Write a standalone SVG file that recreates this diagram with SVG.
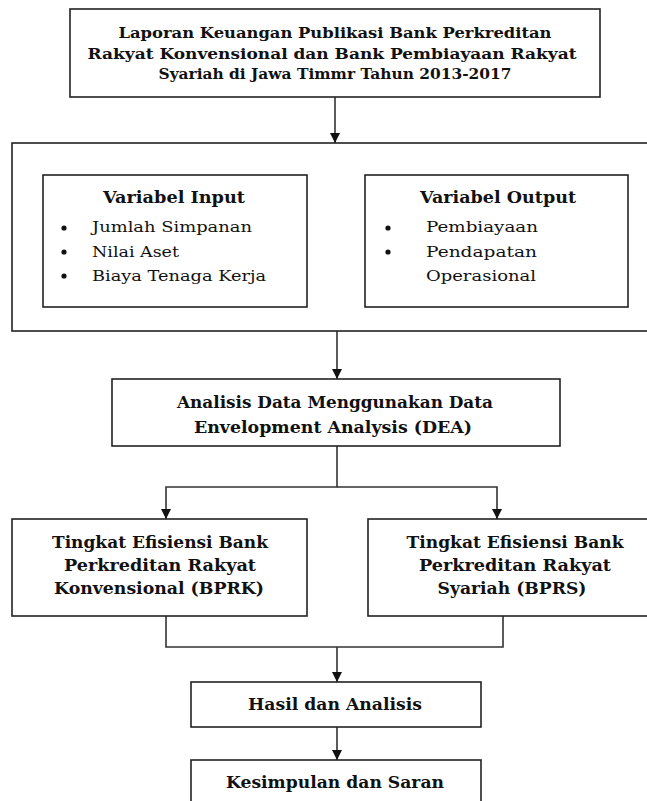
<svg xmlns="http://www.w3.org/2000/svg" width="647" height="801" viewBox="0 0 647 801">
<defs>
<marker id="ah" viewBox="0 0 10 10" refX="10" refY="5" markerWidth="10" markerHeight="10" markerUnits="userSpaceOnUse" orient="auto-start-reverse">
<path d="M0,0 L10,5 L0,10 z" fill="#111"/>
</marker>
<style>
.box{fill:#fff;stroke:#222;stroke-width:1.6}
.b{font-family:"DejaVu Serif","Liberation Serif",serif;font-weight:bold;fill:#111;text-anchor:middle}
.r{font-family:"DejaVu Serif","Liberation Serif",serif;fill:#111}
.c{fill:none;stroke:#333;stroke-width:1.6}
.dot{fill:#111}
</style>
</defs>
<rect width="647" height="801" fill="#fff"/>
<g id="connectors">
<line class="c" x1="335" y1="97" x2="335" y2="143" marker-end="url(#ah)"/>
<line class="c" x1="309" y1="248" x2="365" y2="248" marker-start="url(#ah)" marker-end="url(#ah)"/>
<line class="c" x1="337" y1="331" x2="337" y2="379" marker-end="url(#ah)"/>
<polyline class="c" points="337,446 337,487 166,487 166,519" marker-end="url(#ah)"/>
<polyline class="c" points="337,487 497,487 497,519" marker-end="url(#ah)"/>
<polyline class="c" points="166,616 166,647 503,647 503,616"/>
<line class="c" x1="337" y1="647" x2="337" y2="682" marker-end="url(#ah)"/>
<line class="c" x1="337" y1="727" x2="337" y2="760" marker-end="url(#ah)"/>
</g>
<g id="node-laporan">
<rect class="box" x="70" y="9" width="530" height="88"/>
<text class="b" font-size="15" x="335" y="38" textLength="433" lengthAdjust="spacingAndGlyphs">Laporan Keuangan Publikasi Bank Perkreditan</text>
<text class="b" font-size="15" x="332" y="59" textLength="489" lengthAdjust="spacingAndGlyphs">Rakyat Konvensional  dan Bank Pembiayaan Rakyat</text>
<text class="b" font-size="15" x="335" y="79" textLength="353" lengthAdjust="spacingAndGlyphs">Syariah di Jawa Timmr  Tahun 2013-2017</text>
</g>
<g id="node-variabel">
<rect class="box" x="12" y="143" width="650" height="188"/>
</g>
<g id="node-input">
<rect class="box" x="43" y="175" width="264" height="132"/>
<text class="b" font-size="16" x="174" y="203" textLength="142" lengthAdjust="spacingAndGlyphs">Variabel Input</text>
<circle class="dot" cx="64" cy="228" r="2.6"/>
<circle class="dot" cx="64" cy="252" r="2.6"/>
<circle class="dot" cx="64" cy="276" r="2.6"/>
<text class="r" font-size="15" x="92" y="232" textLength="160" lengthAdjust="spacingAndGlyphs">Jumlah Simpanan</text>
<text class="r" font-size="15" x="92" y="257" textLength="87" lengthAdjust="spacingAndGlyphs">Nilai Aset</text>
<text class="r" font-size="15" x="92" y="281" textLength="174" lengthAdjust="spacingAndGlyphs">Biaya Tenaga Kerja</text>
</g>
<g id="node-output">
<rect class="box" x="365" y="175" width="263" height="132"/>
<text class="b" font-size="16" x="498" y="203" textLength="156" lengthAdjust="spacingAndGlyphs">Variabel Output</text>
<circle class="dot" cx="388" cy="228" r="2.6"/>
<circle class="dot" cx="388" cy="252" r="2.6"/>
<text class="r" font-size="15" x="426" y="232" textLength="112" lengthAdjust="spacingAndGlyphs">Pembiayaan</text>
<text class="r" font-size="15" x="426" y="257" textLength="111" lengthAdjust="spacingAndGlyphs">Pendapatan</text>
<text class="r" font-size="15" x="426" y="281" textLength="110" lengthAdjust="spacingAndGlyphs">Operasional</text>
</g>
<g id="node-dea">
<rect class="box" x="112" y="379" width="448" height="67"/>
<text class="b" font-size="16" x="335" y="408" textLength="316" lengthAdjust="spacingAndGlyphs">Analisis Data Menggunakan  Data</text>
<text class="b" font-size="16" x="333" y="433" textLength="278" lengthAdjust="spacingAndGlyphs">Envelopment Analysis (DEA)</text>
</g>
<g id="node-bprk">
<rect class="box" x="12" y="519" width="295" height="97"/>
<text class="b" font-size="17" x="160" y="548" textLength="216" lengthAdjust="spacingAndGlyphs">Tingkat Efisiensi Bank</text>
<text class="b" font-size="17" x="160" y="571" textLength="192" lengthAdjust="spacingAndGlyphs">Perkreditan Rakyat</text>
<text class="b" font-size="17" x="159" y="594" textLength="210" lengthAdjust="spacingAndGlyphs">Konvensional (BPRK)</text>
</g>
<g id="node-bprs">
<rect class="box" x="368" y="519" width="294" height="97"/>
<text class="b" font-size="17" x="515" y="548" textLength="217" lengthAdjust="spacingAndGlyphs">Tingkat Efisiensi Bank</text>
<text class="b" font-size="17" x="515" y="571" textLength="192" lengthAdjust="spacingAndGlyphs">Perkreditan Rakyat</text>
<text class="b" font-size="17" x="512" y="594" textLength="149" lengthAdjust="spacingAndGlyphs">Syariah  (BPRS)</text>
</g>
<g id="node-hasil">
<rect class="box" x="191" y="682" width="290" height="45"/>
<text class="b" font-size="16" x="335" y="710" textLength="174" lengthAdjust="spacingAndGlyphs">Hasil dan Analisis</text>
</g>
<g id="node-kesimpulan">
<rect class="box" x="191" y="760" width="290" height="50"/>
<text class="b" font-size="16" x="335" y="788" textLength="218" lengthAdjust="spacingAndGlyphs">Kesimpulan dan Saran</text>
</g>
</svg>
